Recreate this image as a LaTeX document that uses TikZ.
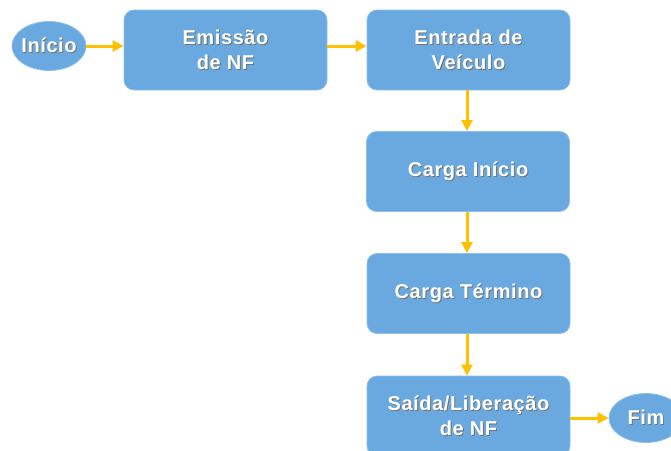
\documentclass[tikz,border=0pt]{standalone}
\usepackage{fontspec}
\setmainfont{Liberation Sans}[LetterSpace=3]
\usetikzlibrary{arrows.meta,shapes.geometric}
\definecolor{boxblue}{HTML}{69A9E0}
\definecolor{boxedge}{HTML}{8FC0EA}
\definecolor{arrowyel}{HTML}{FFC000}
\newcommand\shl[1]{\rlap{\hspace{1pt}\raisebox{-1pt}{\color{black!55}#1}}#1}
\tikzset{
  stepbox/.style={draw=boxedge, line width=0.8pt, fill=boxblue, rounded corners=10pt,
    minimum width=203pt, minimum height=80pt, inner sep=0pt,
    text=white, font=\fontsize{20}{25}\selectfont\bfseries, align=center},
  terminal/.style={ellipse, draw=boxedge, line width=0.8pt, fill=boxblue,
    minimum width=74pt, minimum height=49pt, inner xsep=-12pt, inner ysep=0pt,
    text=white, font=\fontsize{20}{25}\selectfont\bfseries},
  flow/.style={draw=arrowyel, line width=3pt, -{Triangle[length=11pt,width=11pt]}}
}
\begin{document}
\begin{tikzpicture}[x=1pt,y=-1pt]
\useasboundingbox (0,0) rectangle (671,450);
\node[terminal] (ini) at (49,46) {\shl{Início}};
\node[stepbox] (emi) at (225.5,50) {\shl{Emissão}\\\shl{de NF}};
\node[stepbox] (ent) at (468.5,50) {\shl{Entrada de}\\\shl{Veículo}};
\node[stepbox] (cin) at (468,171.5) {\shl{Carga Início}};
\node[stepbox] (cte) at (468.5,293.5) {\shl{Carga Término}};
\node[stepbox] (sai) at (468.5,416) {\shl{Saída/Liberação}\\\shl{de NF}};
\node[terminal] (fim) at (646,418) {\shl{Fim}};
\draw[flow] (ini.east) -- (ini.east -| emi.west);
\draw[flow] (emi.east |- 0,46) -- (ent.west |- 0,46);
\draw[flow] (ent.south -| 467,0) -- (cin.north -| 467,0);
\draw[flow] (cin.south -| 467,0) -- (cte.north -| 467,0);
\draw[flow] (cte.south -| 467,0) -- (sai.north -| 467,0);
\draw[flow] (sai.east |- 0,418) -- (fim.west);
\end{tikzpicture}
\end{document}
